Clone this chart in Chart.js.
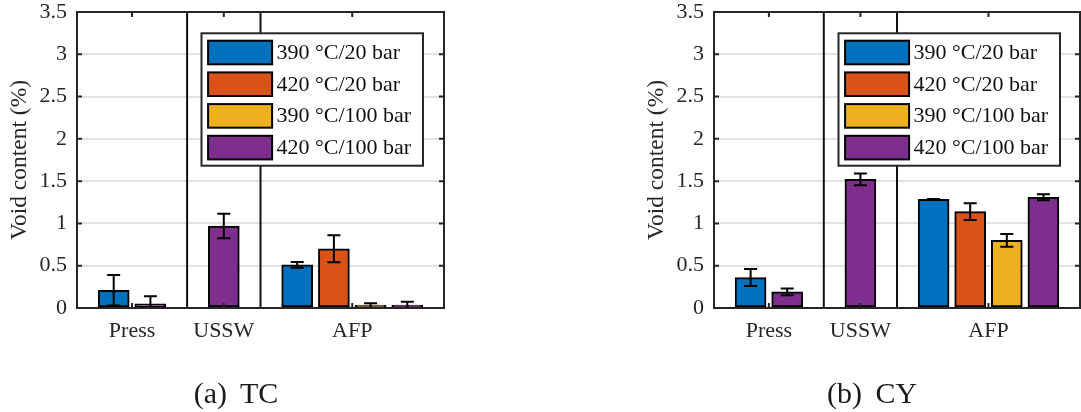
<!DOCTYPE html>
<html><head><meta charset="utf-8">
<script src="https://cdn.jsdelivr.net/npm/chart.js@4/dist/chart.umd.min.js"></script>
<style>
html,body{margin:0;padding:0;background:#fff;}
body{width:1081px;height:412px;position:relative;overflow:hidden;}
.wrap{position:absolute;top:0;height:412px;}
.cap{position:absolute;font-family:"Liberation Serif",serif;font-size:30px;color:#1a1a1a;transform:translate(-50%,-50%);white-space:nowrap;word-spacing:6px;}
</style></head><body>
<div class="wrap" style="left:0;width:460px"><canvas id="c1"></canvas></div>
<div class="wrap" style="left:637px;width:444px"><canvas id="c2"></canvas></div>
<div class="cap" style="left:236px;top:393px">(a) TC</div>
<div class="cap" style="left:872px;top:393px">(b) CY</div>
<script>
// ---- data ----
const groups = ['Press', 'USSW', 'AFP'];
const seriesLabels = ['390 °C/20 bar', '420 °C/20 bar', '390 °C/100 bar', '420 °C/100 bar'];
const seriesColors = ['#0072BD', '#D95319', '#EDB120', '#7E2F8E'];
const yTickValues = [0, 0.5, 1, 1.5, 2, 2.5, 3, 3.5];
const yAxisTitle = 'Void content (%)';

// (a) TC — values per group [Press, USSW, AFP], null = no bar
const tc390_20  = [0.21, null, 0.51];
const tc420_20  = [null, null, 0.70];
const tc390_100 = [null, null, 0.025];
const tc420_100 = [0.05, 0.97, 0.005];
const tcErr390_20  = [0.18, null, 0.035];
const tcErr420_20  = [null, null, 0.16];
const tcErr390_100 = [null, null, 0.03];
const tcErr420_100 = [0.09, 0.145, 0.07];

// (b) CY
const cy390_20  = [0.36, null, 1.285];
const cy420_20  = [null, null, 1.14];
const cy390_100 = [null, null, 0.80];
const cy420_100 = [0.19, 1.52, 1.31];
const cyErr390_20  = [0.10, null, 0.005];
const cyErr420_20  = [null, null, 0.10];
const cyErr390_100 = [null, null, 0.075];
const cyErr420_100 = [0.04, 0.07, 0.035];

// ---- drawing ----
const FONT = '"Liberation Serif", "Times New Roman", serif';
const AXC = '#262626';

function buildChart(canvasId, values, errors, padRight) {
  let slot = 1;
  const centers = [], seps = [];
  const pts = values.map(() => []);
  groups.forEach((g, gi) => {
    const start = slot;
    values.forEach((arr, si) => {
      if (arr[gi] !== null) { pts[si].push({x: slot, y: arr[gi], e: errors[si][gi]}); slot++; }
    });
    centers.push((start + slot - 1) / 2);
    if (gi < groups.length - 1) { seps.push(slot); slot++; }
  });
  const xMax = slot;

  const overlay = {
    id: 'overlay',
    afterDatasetsDraw(chart) {
      const {ctx, chartArea: a, scales: {x, y}} = chart;
      // error bars
      ctx.save();
      ctx.beginPath(); ctx.rect(a.left, a.top, a.right - a.left, a.bottom - a.top); ctx.clip();
      ctx.strokeStyle = '#000'; ctx.lineWidth = 2;
      chart.data.datasets.forEach(ds => ds.data.forEach(p => {
        if (p.e == null) return;
        const px = x.getPixelForValue(p.x);
        const hi = y.getPixelForValue(p.y + p.e), lo = y.getPixelForValue(p.y - p.e);
        ctx.beginPath();
        ctx.moveTo(px, hi); ctx.lineTo(px, lo);
        ctx.moveTo(px - 6.5, hi); ctx.lineTo(px + 6.5, hi);
        ctx.moveTo(px - 6.5, lo); ctx.lineTo(px + 6.5, lo);
        ctx.stroke();
      }));
      ctx.restore();
      // separators
      ctx.save();
      ctx.strokeStyle = '#111'; ctx.lineWidth = 2;
      seps.forEach(s => {
        const px = x.getPixelForValue(s);
        ctx.beginPath(); ctx.moveTo(px, a.top); ctx.lineTo(px, a.bottom); ctx.stroke();
      });
      // box
      ctx.strokeStyle = AXC; ctx.lineWidth = 2;
      ctx.strokeRect(a.left, a.top, a.right - a.left, a.bottom - a.top);
      // inner tick marks
      ctx.beginPath();
      yTickValues.forEach(v => {
        const py = y.getPixelForValue(v);
        ctx.moveTo(a.left, py); ctx.lineTo(a.left + 5, py);
        ctx.moveTo(a.right, py); ctx.lineTo(a.right - 5, py);
      });
      centers.forEach(c => {
        const px = x.getPixelForValue(c);
        ctx.moveTo(px, a.bottom); ctx.lineTo(px, a.bottom - 5);
        ctx.moveTo(px, a.top); ctx.lineTo(px, a.top + 5);
      });
      ctx.stroke();
      // legend
      const bx = a.left + 124.5, by = a.top + 21.3, bw = 221.5, bh = 132.4;
      ctx.fillStyle = '#fff'; ctx.fillRect(bx, by, bw, bh);
      ctx.strokeStyle = AXC; ctx.lineWidth = 2; ctx.strokeRect(bx, by, bw, bh);
      ctx.font = '22px ' + FONT; ctx.textBaseline = 'middle'; ctx.textAlign = 'left';
      chart.data.datasets.forEach((ds, i) => {
        const sy = by + 7.4 + i * 31.7;
        ctx.fillStyle = ds.backgroundColor; ctx.fillRect(bx + 6.6, sy, 64, 23.6);
        ctx.strokeStyle = '#000'; ctx.lineWidth = 2; ctx.strokeRect(bx + 6.6, sy, 64, 23.6);
        ctx.fillStyle = '#111'; ctx.fillText(ds.label, bx + 75, sy + 12.5);
      });
      ctx.restore();
    }
  };

  return new Chart(document.getElementById(canvasId), {
    type: 'bar',
    data: {
      datasets: seriesLabels.map((lab, si) => ({
        label: lab,
        data: pts[si],
        backgroundColor: seriesColors[si],
        borderColor: '#000',
        borderWidth: 2,
        borderSkipped: false,
        barThickness: 31,
        minBarLength: 3,
        grouped: false
      }))
    },
    options: {
      responsive: true,
      maintainAspectRatio: false,
      animation: false,
      layout: {padding: {top: 12, right: padRight, left: 0, bottom: 0}},
      plugins: {legend: {display: false}, tooltip: {enabled: false}},
      scales: {
        x: {
          type: 'linear', min: 0, max: xMax, offset: false,
          afterBuildTicks: s => { s.ticks = centers.map(v => ({value: v})); },
          afterFit: s => { s.height = 104; s.paddingLeft = 0; s.paddingRight = 0; },
          grid: {display: false, drawTicks: false, offset: false},
          border: {display: false},
          ticks: {
            autoSkip: false, maxRotation: 0, padding: 10,
            font: {family: FONT, size: 22}, color: AXC,
            callback: (v, i) => groups[i]
          }
        },
        y: {
          min: 0, max: 3.5,
          afterBuildTicks: s => { s.ticks = yTickValues.map(v => ({value: v})); },
          afterFit: s => { s.width = 77; s.paddingTop = 0; s.paddingBottom = 0; },
          grid: {color: '#e2e2e2', lineWidth: 2, drawTicks: false},
          border: {display: false},
          ticks: {padding: 10, font: {family: FONT, size: 22, lineHeight: 1}, color: AXC,
                  callback: v => String(v)},
          title: {display: true, text: yAxisTitle, color: AXC,
                  font: {family: FONT, size: 23.5}, padding: {top: 6, bottom: 0}}
        }
      }
    },
    plugins: [overlay]
  });
}

buildChart('c1', [tc390_20, tc420_20, tc390_100, tc420_100],
  [tcErr390_20, tcErr420_20, tcErr390_100, tcErr420_100], 16);
buildChart('c2', [cy390_20, cy420_20, cy390_100, cy420_100],
  [cyErr390_20, cyErr420_20, cyErr390_100, cyErr420_100], 1);
</script>
</body></html>
